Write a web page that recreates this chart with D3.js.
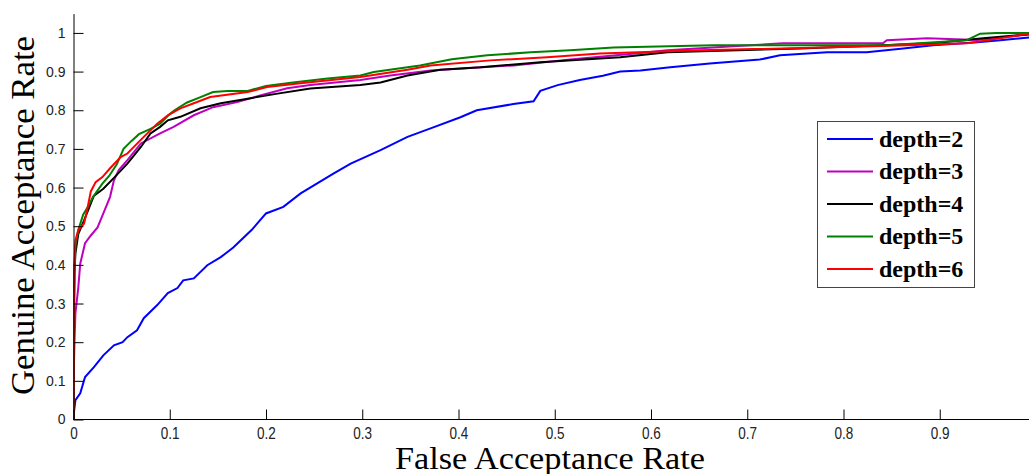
<!DOCTYPE html>
<html>
<head>
<meta charset="utf-8">
<script src="https://cdn.jsdelivr.net/npm/d3@7"></script>
<style>
html,body{margin:0;padding:0;background:#fff;overflow:hidden;}
svg{display:block;}
</style>
</head>
<body>
<svg id="chart" width="1029" height="474"></svg>
<script>
// ---- data (False Acceptance Rate, Genuine Acceptance Rate) ----
const depth2 = [[0,0],[0.0003,0.016],[0.002,0.05],[0.007,0.068],[0.012,0.11],[0.021,0.135],[0.031,0.166],[0.042,0.192],[0.051,0.2],[0.056,0.213],[0.066,0.231],[0.073,0.262],[0.087,0.296],[0.098,0.327],[0.108,0.34],[0.114,0.36],[0.125,0.365],[0.139,0.399],[0.153,0.42],[0.166,0.445],[0.185,0.49],[0.2,0.533],[0.218,0.55],[0.236,0.585],[0.27,0.636],[0.288,0.662],[0.319,0.697],[0.347,0.731],[0.371,0.753],[0.402,0.782],[0.419,0.8],[0.457,0.816],[0.478,0.823],[0.485,0.85],[0.503,0.865],[0.526,0.878],[0.55,0.889],[0.568,0.9],[0.589,0.903],[0.62,0.911],[0.661,0.921],[0.713,0.931],[0.734,0.942],[0.783,0.95],[0.824,0.95],[0.862,0.96],[0.893,0.968],[0.939,0.976],[0.963,0.981],[1.0,0.99]];
const depth3 = [[0,0],[0,0.094],[0.001,0.2],[0.002,0.275],[0.005,0.342],[0.007,0.403],[0.012,0.456],[0.018,0.476],[0.025,0.497],[0.031,0.533],[0.038,0.576],[0.042,0.619],[0.047,0.645],[0.056,0.671],[0.07,0.714],[0.09,0.74],[0.104,0.757],[0.125,0.787],[0.145,0.808],[0.17,0.821],[0.194,0.838],[0.222,0.857],[0.246,0.865],[0.298,0.878],[0.329,0.89],[0.371,0.903],[0.457,0.916],[0.519,0.932],[0.589,0.948],[0.617,0.955],[0.703,0.968],[0.737,0.973],[0.841,0.973],[0.845,0.981],[0.887,0.986],[0.939,0.982],[1.0,0.998]];
const depth4 = [[0,0],[0,0.15],[0.001,0.38],[0.002,0.43],[0.005,0.48],[0.011,0.515],[0.021,0.578],[0.031,0.597],[0.042,0.625],[0.056,0.662],[0.07,0.705],[0.08,0.74],[0.09,0.757],[0.098,0.774],[0.111,0.783],[0.132,0.805],[0.153,0.818],[0.181,0.83],[0.212,0.843],[0.246,0.856],[0.298,0.865],[0.319,0.872],[0.347,0.89],[0.381,0.905],[0.423,0.911],[0.485,0.924],[0.568,0.937],[0.617,0.95],[0.755,0.96],[0.893,0.973],[0.945,0.986],[1.0,0.998]];
const depth5 = [[0,0],[0,0.17],[0.001,0.38],[0.002,0.45],[0.005,0.49],[0.01,0.53],[0.015,0.55],[0.02,0.575],[0.03,0.61],[0.037,0.63],[0.045,0.66],[0.052,0.7],[0.06,0.72],[0.068,0.738],[0.08,0.752],[0.09,0.765],[0.1,0.79],[0.105,0.8],[0.118,0.82],[0.132,0.834],[0.145,0.847],[0.16,0.85],[0.181,0.85],[0.2,0.863],[0.228,0.872],[0.264,0.882],[0.298,0.89],[0.312,0.899],[0.36,0.916],[0.393,0.932],[0.43,0.942],[0.475,0.95],[0.516,0.955],[0.561,0.962],[0.665,0.968],[0.845,0.968],[0.928,0.981],[0.942,0.998],[0.959,1.0],[1.0,1.0]];
const depth6 = [[0,0],[0.0005,0.3],[0.001,0.4],[0.002,0.463],[0.005,0.49],[0.011,0.507],[0.014,0.54],[0.018,0.59],[0.023,0.614],[0.03,0.627],[0.038,0.65],[0.049,0.679],[0.056,0.688],[0.073,0.731],[0.087,0.765],[0.098,0.787],[0.111,0.805],[0.125,0.818],[0.142,0.834],[0.181,0.847],[0.201,0.86],[0.243,0.872],[0.298,0.886],[0.347,0.905],[0.371,0.916],[0.433,0.929],[0.492,0.937],[0.547,0.947],[0.651,0.955],[0.841,0.966],[0.928,0.973],[0.985,0.995],[1.0,1.0]];

const seriesNames = ["depth=2","depth=3","depth=4","depth=5","depth=6"];
const seriesColors = ["#0000ff","#bf00bf","#000000","#008000","#ff0000"];
const seriesData = [depth2, depth3, depth4, depth5, depth6];

const xTicks = [0,0.1,0.2,0.3,0.4,0.5,0.6,0.7,0.8,0.9];
const yTicks = [0,0.1,0.2,0.3,0.4,0.5,0.6,0.7,0.8,0.9,1];
const xTitle = "False Acceptance Rate";
const yTitle = "Genuine Acceptance Rate";

// ---- layout ----
const svg = d3.select("#chart");
const x = d3.scaleLinear().domain([0,1]).range([73.5,1036]);
const y = d3.scaleLinear().domain([0,1.05]).range([419.5,13.6]);

// curves
const line = d3.line().x(d=>x(d[0])).y(d=>y(d[1]));
svg.append("defs").append("clipPath").attr("id","clip")
  .append("rect").attr("x",73).attr("y",0).attr("width",1029-73).attr("height",420);
const g = svg.append("g").attr("clip-path","url(#clip)");
seriesData.forEach((data,i)=>{
  g.append("path").datum(data)
    .attr("d",line).attr("fill","none")
    .attr("stroke",seriesColors[i]).attr("stroke-width",2)
    .attr("stroke-linejoin","miter");
});

// axes
const xAxis = d3.axisBottom(x).tickValues(xTicks).tickSizeInner(-10).tickSizeOuter(0)
  .tickFormat(d=>d3.format("")(+d.toFixed(1)));
const xg = svg.append("g").attr("transform","translate(0,419.5)").call(xAxis);
xg.select(".domain").attr("d","M73.5,0H1029").attr("stroke","#000");
xg.selectAll(".tick line").attr("stroke","#000");
xg.selectAll(".tick text")
  .attr("y",0).attr("dy",0)
  .attr("transform","translate(0,19) scale(0.82,1)")
  .attr("x",function(d){return 0;})
  .each(function(d){ d3.select(this).attr("transform","translate("+0+",19.5) scale(0.82,1)"); })
  .style("font-family","'Liberation Sans', Arial, sans-serif")
  .style("font-size","16.5px").attr("fill","#222");

const yAxis = d3.axisLeft(y).tickValues(yTicks).tickSizeInner(-10).tickSizeOuter(0)
  .tickPadding(8).tickFormat(d=>d3.format("")(+d.toFixed(1)));
const yg = svg.append("g").attr("transform","translate(73.5,0)").call(yAxis);
yg.select(".domain").attr("stroke","#000");
yg.selectAll(".tick line").attr("stroke","#000");
yg.selectAll(".tick text")
  .style("font-family","'Liberation Sans', Arial, sans-serif")
  .style("font-size","14px").attr("fill","#222");

// titles
svg.append("text")
  .attr("x",550).attr("y",468.5).attr("text-anchor","middle")
  .attr("textLength",310).attr("lengthAdjust","spacingAndGlyphs")
  .style("font-family","'Liberation Serif','Times New Roman',serif")
  .style("font-size","31px").attr("fill","#000")
  .text(xTitle);
svg.append("text")
  .attr("transform","translate(34,215.5) rotate(-90)")
  .attr("text-anchor","middle")
  .attr("textLength",359).attr("lengthAdjust","spacingAndGlyphs")
  .style("font-family","'Liberation Serif','Times New Roman',serif")
  .style("font-size","34px").attr("fill","#000")
  .text(yTitle);

// legend
const lg = svg.append("g");
lg.append("rect").attr("x",817.5).attr("y",121.5).attr("width",157).attr("height",166)
  .attr("fill","#fff").attr("stroke","#444").attr("stroke-width",1);
seriesNames.forEach((name,i)=>{
  const cy = 139 + i*32.5;
  lg.append("line").attr("x1",827).attr("x2",873).attr("y1",cy).attr("y2",cy)
    .attr("stroke",seriesColors[i]).attr("stroke-width",2);
  lg.append("text").attr("x",879).attr("y",cy+7.5)
    .style("font-family","'Liberation Serif','Times New Roman',serif")
    .style("font-weight","bold").style("font-size","24px").attr("fill","#000")
    .text(name);
});
</script>
</body>
</html>
